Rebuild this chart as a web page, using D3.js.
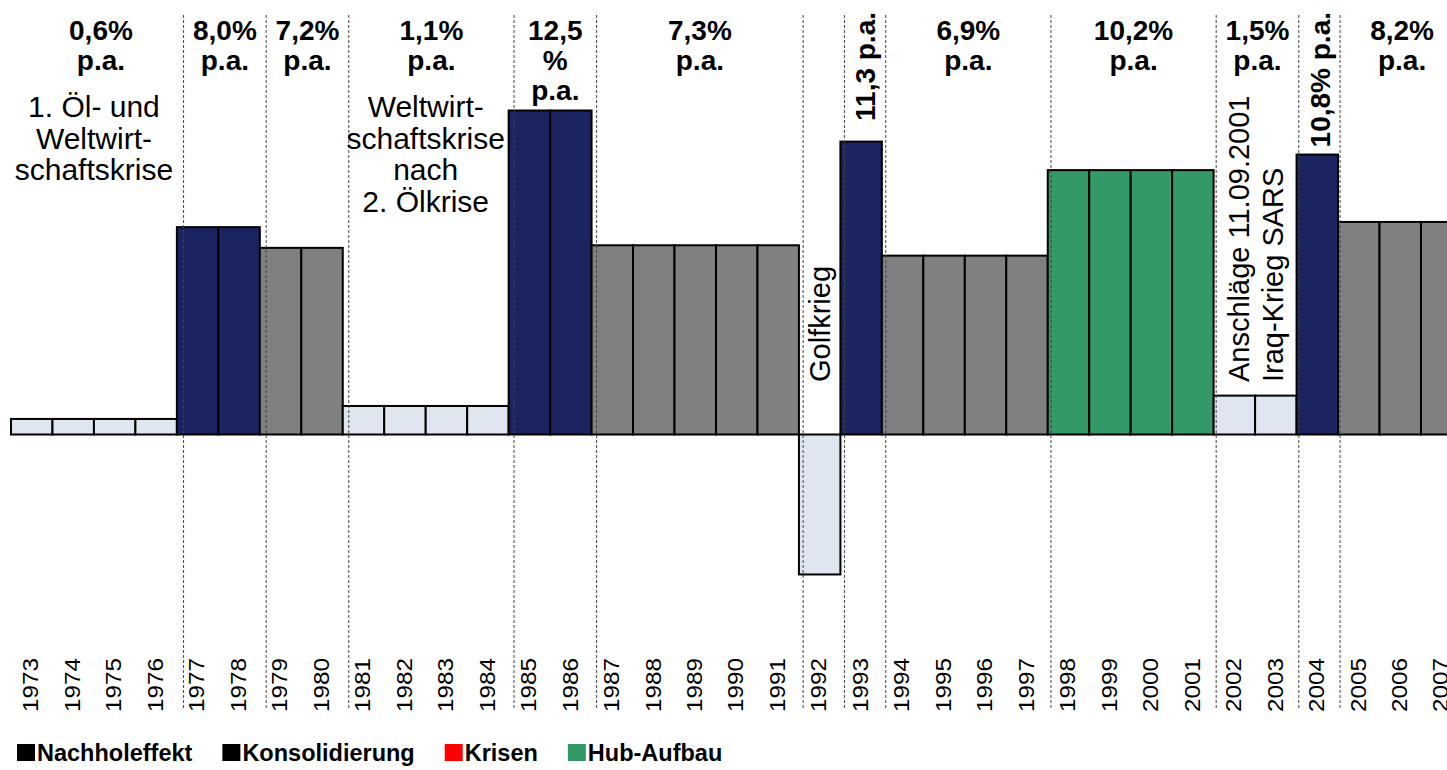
<!DOCTYPE html>
<html>
<head>
<meta charset="utf-8">
<script src="https://cdn.jsdelivr.net/npm/d3@7"></script>
<style>
  html, body { margin: 0; padding: 0; background: #fff; }
  svg { display: block; font-family: "Liberation Sans", Arial, sans-serif; }
</style>
</head>
<body>
<svg id="chart" width="1447" height="770"></svg>
<script>
// ---------------- data ----------------
const years = [1973,1974,1975,1976,1977,1978,1979,1980,1981,1982,1983,1984,1985,1986,1987,1988,1989,1990,1991,1992,1993,1994,1995,1996,1997,1998,1999,2000,2001,2002,2003,2004,2005,2006,2007];
const growth = [0.6,0.6,0.6,0.6, 8.0,8.0, 7.2,7.2, 1.1,1.1,1.1,1.1, 12.5,12.5, 7.3,7.3,7.3,7.3,7.3, -5.4, 11.3, 6.9,6.9,6.9,6.9, 10.2,10.2,10.2,10.2, 1.5,1.5, 10.8, 8.2,8.2,8.2];
const phase = ["krise","krise","krise","krise","nach","nach","kons","kons","krise","krise","krise","krise","nach","nach","kons","kons","kons","kons","kons","krise","nach","kons","kons","kons","kons","hub","hub","hub","hub","krise","krise","nach","kons","kons","kons"];
const separatorYears = [1977,1979,1981,1985,1987,1992,1993,1994,1998,2002,2004,2005];

// period growth labels
const periodStart = [1973,1977,1979,1981,1985,1987,1993,1994,1998,2002,2004,2005];
const periodEnd   = [1976,1978,1980,1984,1986,1991,1993,1997,2001,2003,2004,2007];
const periodText  = [["0,6%","p.a."],["8,0%","p.a."],["7,2%","p.a."],["1,1%","p.a."],["12,5","%","p.a."],["7,3%","p.a."],["11,3 p.a."],["6,9%","p.a."],["10,2%","p.a."],["1,5%","p.a."],["10,8% p.a."],["8,2%","p.a."]];
const periodVertical = [false,false,false,false,false,false,true,false,false,false,true,false];

// crisis annotations
const eventStart = [1973,1981];
const eventEnd   = [1976,1984];
const eventText  = [["1. Öl- und","Weltwirt-","schaftskrise"],["Weltwirt-","schaftskrise","nach","2. Ölkrise"]];
const vEventStart = [1992,2002];
const vEventEnd   = [1992,2003];
const vEventText  = [["Golfkrieg"],["Anschläge 11.09.2001","Iraq-Krieg SARS"]];

const legendLabels = ["Nachholeffekt","Konsolidierung","Krisen","Hub-Aufbau"];
const legendColors = ["#000000","#000000","#ff0000","#339966"];

const phaseColor = {krise:"#dfe6f0", nach:"#1b2460", kons:"#808080", hub:"#339966"};

// ---------------- drawing ----------------
const svg = d3.select("#chart");

const x = d3.scaleBand().domain(years).range([11, 11 + 35*41.47]).padding(0);
const bw = x.bandwidth();
const y = d3.scaleLinear().domain([0, 12.5]).range([434.5, 110.5]);
// separator (dashed) lines sit on a slightly different grid than the bars
const edge = yr => yr > 2007 ? x(2007) + bw : x(yr);
const sep = d3.scaleLinear().domain([0, 1000]).range([7.4, 7.4 + 996]);
const sepX = yr => sep(edge(yr));

const data = years.map((yr,i) => ({year:yr, v:growth[i], p:phase[i]}));

// bars
svg.append("g").selectAll("rect").data(data).join("rect")
  .attr("x", d => x(d.year))
  .attr("width", bw)
  .attr("y", d => Math.min(y(d.v), y(0)))
  .attr("height", d => Math.abs(y(d.v) - y(0)))
  .attr("fill", d => phaseColor[d.p])
  .attr("stroke", "#000")
  .attr("stroke-width", 2);

// dashed separators
svg.append("g").selectAll("line").data(separatorYears).join("line")
  .attr("x1", d => sepX(d)).attr("x2", d => sepX(d))
  .attr("y1", 15).attr("y2", 710)
  .attr("stroke", "#444").attr("stroke-width", 1)
  .attr("stroke-dasharray", "3,2");

// year labels (rotated)
svg.append("g").selectAll("text").data(years).join("text")
  .attr("transform", d => `translate(${x(d) + bw/2 - 1},712) rotate(-90)`)
  .attr("dy", "0.36em")
  .attr("text-anchor", "start")
  .attr("font-size", 21.5)
  .attr("textLength", 54)
  .attr("lengthAdjust", "spacingAndGlyphs")
  .attr("fill", "#000")
  .text(d => d);

// period growth labels
const pg = svg.append("g").attr("font-weight", "bold").attr("font-size", 28).attr("fill", "#000");
periodText.forEach((lines, i) => {
  const cx = (sepX(periodStart[i]) + sepX(periodEnd[i] + 1)) / 2;
  if (periodVertical[i]) {
    pg.append("text")
      .attr("transform", `translate(${cx},12) rotate(-90)`)
      .attr("dy", "0.36em")
      .attr("text-anchor", "end")
      .text(lines[0]);
  } else {
    lines.forEach((t, j) => {
      pg.append("text")
        .attr("x", cx).attr("y", 40 + j*30)
        .attr("text-anchor", "middle")
        .text(t);
    });
  }
});

// horizontal event annotations
const eg = svg.append("g").attr("font-size", 30).attr("fill", "#000");
eventText.forEach((lines, i) => {
  const cx = (x(eventStart[i]) + x(eventEnd[i]) + bw) / 2;
  lines.forEach((t, j) => {
    eg.append("text")
      .attr("x", cx).attr("y", 117 + j*31.5)
      .attr("text-anchor", "middle")
      .text(t);
  });
});

// vertical event annotations
vEventText.forEach((lines, i) => {
  const cx = (x(vEventStart[i]) + x(vEventEnd[i]) + bw) / 2;
  const n = lines.length;
  lines.forEach((t, j) => {
    const off = (j - (n-1)/2) * 34;
    eg.append("text")
      .attr("font-size", 29)
      .attr("transform", `translate(${cx + off},382) rotate(-90)`)
      .attr("dy", "0.36em")
      .attr("text-anchor", "start")
      .text(t);
  });
});

// legend
const lg = svg.append("g").attr("font-weight", "bold").attr("font-size", 23.5);
let lx = 17;
legendLabels.forEach((lab, i) => {
  lg.append("rect").attr("x", lx).attr("y", 744).attr("width", 18).attr("height", 17).attr("fill", legendColors[i]);
  const t = lg.append("text").attr("x", lx + 20).attr("y", 761).attr("fill", "#000").text(lab);
  lx += 20 + t.node().getComputedTextLength() + 30;
});
</script>
</body>
</html>
